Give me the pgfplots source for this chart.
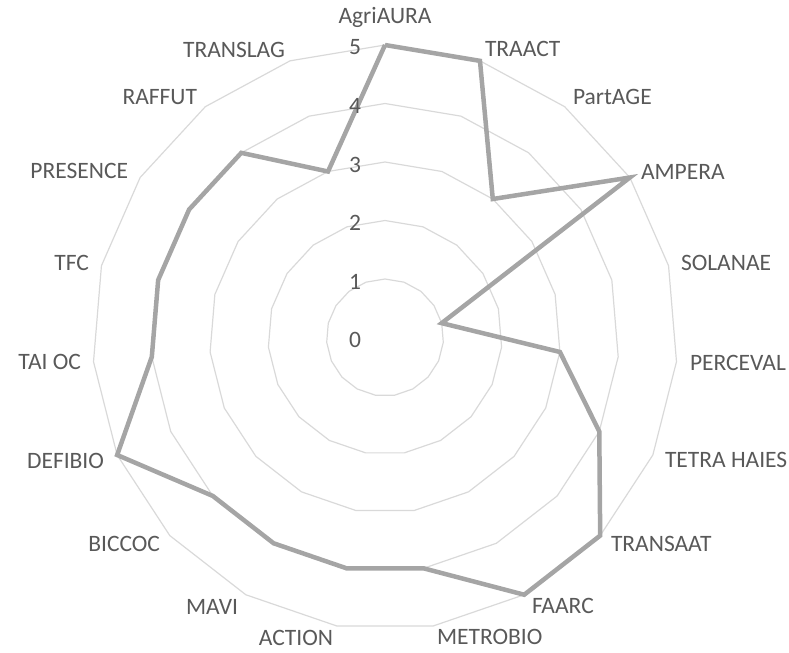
\documentclass[border=0pt]{standalone}
\usepackage{pgfplots}
\pgfplotsset{compat=1.18}
\usepgfplotslibrary{polar}
\usepackage{pgfplotstable}
\usepackage{fontspec}
\setmainfont{Carlito}
\definecolor{txt}{RGB}{89,89,89}
\definecolor{ringc}{RGB}{217,217,217}
\definecolor{serie}{RGB}{165,165,165}

\pgfplotstableread{
angle value
90 5
71.0526 5
52.1053 3
33.1579 5
14.2105 1
-4.7368 3
-23.6842 4
-42.6316 5
-61.5789 5
-80.5263 4
-99.4737 4
-118.4211 4
-137.3684 4
-156.3158 5
-175.2632 4
-194.2105 4
-213.1579 4
-232.1053 4
-251.0526 3
-270 5
}\data

\begin{document}
\begin{tikzpicture}
\begin{polaraxis}[
  hide axis,
  width=585bp, height=585bp, scale only axis,
  ymin=0, ymax=5,
  clip=false,
]
\pgfplotsinvokeforeach{1,2,3,4,5}{
  \addplot[ringc, line width=1.2bp, mark=none] table[x=angle, y expr=#1] {\data};
}
\addplot[serie, line width=4.5bp, mark=none] table[x=angle, y=value] {\data};
\coordinate (C) at (axis cs:0,0);
\end{polaraxis}
\begin{scope}[shift={(C)}, x=1bp, y=1bp, every node/.style={inner sep=0pt, outer sep=0pt, text=txt, font=\fontsize{23.5bp}{28bp}\selectfont}]
\path (-385,-315.5) rectangle (404,337.5);
% category labels
\node[anchor=center] at (0,320.5) {AgriAURA};
\node[anchor=west] at (100,288.5) {TRAACT};
\node[anchor=west] at (188,240.5) {PartAGE};
\node[anchor=west] at (256,165.5) {AMPERA};
\node[anchor=west] at (296,74.5) {SOLANAE};
\node[anchor=west] at (305,-25.5) {PERCEVAL};
\node[anchor=west] at (280,-122.5) {TETRA HAIES};
\node[anchor=west] at (226,-206.5) {TRANSAAT};
\node[anchor=west] at (147,-268.5) {FAARC};
\node[anchor=west] at (52,-299.5) {METROBIO};
\node[anchor=east] at (-52,-300.5) {ACTION};
\node[anchor=east] at (-147,-269.5) {MAVI};
\node[anchor=east] at (-225,-206.5) {BICCOC};
\node[anchor=east] at (-281,-123.5) {DEFIBIO};
\node[anchor=east] at (-304,-24.5) {TAI OC};
\node[anchor=east] at (-296,74.5) {TFC};
\node[anchor=east] at (-257,166.5) {PRESENCE};
\node[anchor=east] at (-188,240.5) {RAFFUT};
\node[anchor=east] at (-100,287.5) {TRANSLAG};
% value labels
\node[anchor=east] at (-24,290.5) {5};
\node[anchor=east] at (-24,231.5) {4};
\node[anchor=east] at (-24,173) {3};
\node[anchor=east] at (-24,114.5) {2};
\node[anchor=east] at (-24,55.5) {1};
\node[anchor=east] at (-24,-2.5) {0};
\end{scope}
\end{tikzpicture}
\end{document}
